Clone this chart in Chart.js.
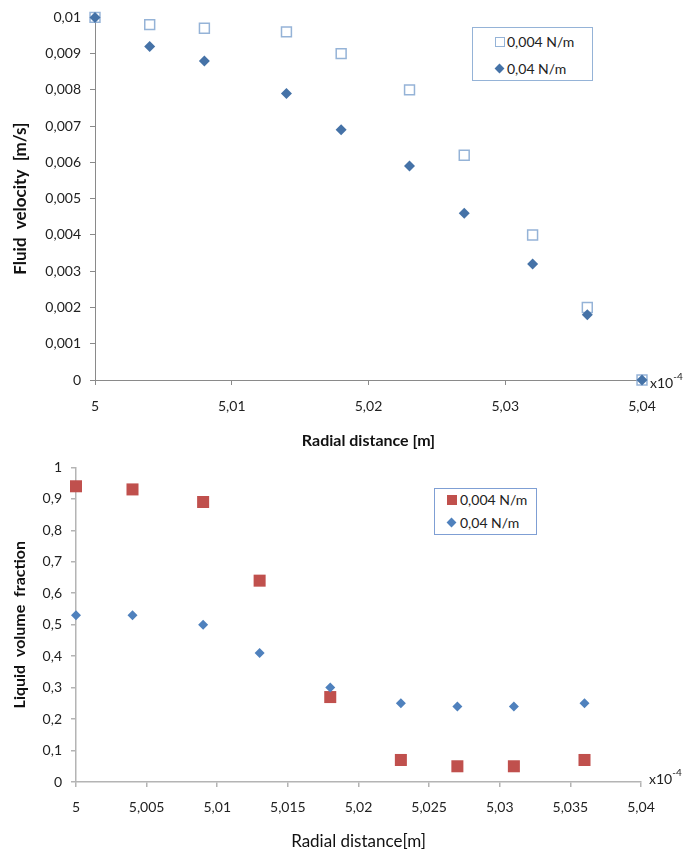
<!DOCTYPE html>
<html>
<head>
<meta charset="utf-8">
<script src="https://cdn.jsdelivr.net/npm/chart.js@4.4.0/dist/chart.umd.min.js"></script>
<style>
    html, body { margin: 0; padding: 0; background: #fff; }
    body { width: 683px; height: 855px; position: relative; overflow: hidden; font-family: Lato, "Liberation Sans", sans-serif; }
    .box { position: absolute; left: 0; width: 683px; }
    .legend { position: absolute; box-sizing: border-box; background: #fff; }
    .item { position: absolute; font-size: 14px; color: #222; line-height: 16px; white-space: nowrap; }
    .mark { position: absolute; box-sizing: border-box; }
</style>
</head>
<body>
<div class="box" style="top:0;height:450px"><canvas id="velocityChart" width="683" height="450"></canvas></div>
<div class="box" style="top:450px;height:405px"><canvas id="fractionChart" width="683" height="405"></canvas></div>

<div class="legend" style="left:472px;top:27px;width:121px;height:54px;border:1.5px solid #95b3d7">
    <span class="mark" style="left:22px;top:9px;width:10px;height:10px;border:1.5px solid #95b3d7;background:#fff"></span>
    <span class="item" id="velLegend0" style="left:34px;top:6px"></span>
    <span class="mark" style="left:23px;top:37px;width:7px;height:7px;background:#4572a7;transform:rotate(45deg)"></span>
    <span class="item" id="velLegend1" style="left:34px;top:33px"></span>
</div>
<div class="legend" style="left:434px;top:488px;width:103px;height:47px;border:1.5px solid #7f9fd4">
    <span class="mark" style="left:12px;top:6px;width:10px;height:10px;background:#c0504d"></span>
    <span class="item" id="fracLegend0" style="left:25px;top:3px"></span>
    <span class="mark" style="left:13px;top:30px;width:7px;height:7px;background:#4f81bd;transform:rotate(45deg)"></span>
    <span class="item" id="fracLegend1" style="left:25px;top:26px"></span>
</div>

<script>
// radial distance in units of 1e-4 m
const seriesLabels = ['0,004 N/m', '0,04 N/m'];

const velX = [5, 5.004, 5.008, 5.014, 5.018, 5.023, 5.027, 5.032, 5.036, 5.04];
const velLow = [0.01, 0.0098, 0.0097, 0.0096, 0.009, 0.008, 0.0062, 0.004, 0.002, 0];
const velHigh = [0.01, 0.0092, 0.0088, 0.0079, 0.0069, 0.0059, 0.0046, 0.0032, 0.0018, 0];

const fracX = [5, 5.004, 5.009, 5.013, 5.018, 5.023, 5.027, 5.031, 5.036];
const fracLow = [0.94, 0.93, 0.89, 0.64, 0.27, 0.07, 0.05, 0.05, 0.07];
const fracHigh = [0.53, 0.53, 0.50, 0.41, 0.30, 0.25, 0.24, 0.24, 0.25];

Chart.defaults.font.family = 'Lato, "Liberation Sans", sans-serif';
Chart.defaults.color = '#222';

document.getElementById('velLegend0').textContent = seriesLabels[0];
document.getElementById('velLegend1').textContent = seriesLabels[1];
document.getElementById('fracLegend0').textContent = seriesLabels[0];
document.getElementById('fracLegend1').textContent = seriesLabels[1];

function comma(v, digits) {
    return String(parseFloat(v.toFixed(digits))).replace('.', ',');
}

function toPoints(xs, ys) {
    return xs.map((x, i) => ({ x: x, y: ys[i] }));
}

// the little "x10-4" next to the end of the x axis
const exponentLabel = {
    id: 'exponentLabel',
    afterDraw(chart) {
        const xs = chart.scales.x;
        const ctx = chart.ctx;
        ctx.save();
        ctx.fillStyle = '#222';
        ctx.textBaseline = 'middle';
        ctx.font = '14px Lato, "Liberation Sans", sans-serif';
        const left = xs.right + 8;
        const y = xs.top + chart.options.plugins.exponentLabel.dy;
        ctx.fillText('x10', left, y);
        const w = ctx.measureText('x10').width;
        ctx.font = '10px Lato, "Liberation Sans", sans-serif';
        ctx.fillText('-4', left + w, y - 6);
        ctx.restore();
    }
};

function axisStyle(color, width) {
    return {
        grid: { drawOnChartArea: false, drawTicks: true, tickLength: 5, color: color, lineWidth: width },
        border: { display: true, color: color, width: width }
    };
}

// Fluid velocity chart
const velocityChart = new Chart(document.getElementById('velocityChart').getContext('2d'), {
    type: 'scatter',
    data: {
        datasets: [
            {
                label: seriesLabels[1],
                data: toPoints(velX, velHigh),
                pointStyle: 'rectRot',
                pointRadius: 5.5,
                backgroundColor: '#4572a7',
                borderColor: '#4572a7',
                borderWidth: 0,
                clip: false,
                order: 0
            },
            {
                label: seriesLabels[0],
                data: toPoints(velX, velLow),
                pointStyle: 'rect',
                pointRadius: 7,
                backgroundColor: '#fff',
                borderColor: '#95b3d7',
                borderWidth: 1.5,
                clip: false,
                order: 1
            }
        ]
    },
    options: {
        responsive: false,
        animation: false,
        events: [],
        layout: { padding: { top: 17, right: 41, left: 0, bottom: 0 } },
        plugins: {
            legend: { display: false },
            tooltip: { enabled: false },
            exponentLabel: { dy: 3 }
        },
        scales: {
            x: {
                type: 'linear',
                min: 5,
                max: 5.04,
                ...axisStyle('#8a8a8a', 1),
                ticks: { stepSize: 0.01, padding: 13, font: { size: 14 }, callback: v => comma(v, 3) },
                title: { display: true, text: 'Radial distance [m]', font: { size: 16, weight: 'bold' }, color: '#111', padding: { top: 0, bottom: 0 } },
                afterFit: scale => { scale.height = 70; }
            },
            y: {
                min: 0,
                max: 0.01,
                ...axisStyle('#8a8a8a', 1),
                ticks: { stepSize: 0.001, padding: 9, font: { size: 14 }, callback: v => comma(v, 4) },
                title: { display: true, text: 'Fluid  velocity  [m/s]', font: { size: 17, weight: 'bold' }, color: '#111', padding: { top: 10, bottom: 0 } },
                afterFit: scale => { scale.width = 95; }
            }
        }
    },
    plugins: [exponentLabel]
});

// Liquid volume fraction chart
const fractionChart = new Chart(document.getElementById('fractionChart').getContext('2d'), {
    type: 'scatter',
    data: {
        datasets: [
            {
                label: seriesLabels[1],
                data: toPoints(fracX, fracHigh),
                pointStyle: 'rectRot',
                pointRadius: 5,
                backgroundColor: '#4f81bd',
                borderColor: '#4f81bd',
                borderWidth: 0,
                clip: false,
                order: 0
            },
            {
                label: seriesLabels[0],
                data: toPoints(fracX, fracLow),
                pointStyle: 'rect',
                pointRadius: 8.5,
                backgroundColor: '#c0504d',
                borderColor: '#c0504d',
                borderWidth: 0,
                clip: false,
                order: 1
            }
        ]
    },
    options: {
        responsive: false,
        animation: false,
        events: [],
        layout: { padding: { top: 15, right: 42, left: 0, bottom: 0 } },
        plugins: {
            legend: { display: false },
            tooltip: { enabled: false },
            exponentLabel: { dy: -3 }
        },
        scales: {
            x: {
                type: 'linear',
                min: 5,
                max: 5.04,
                ...axisStyle('#b4b4b4', 1.5),
                ticks: { stepSize: 0.005, padding: 12, font: { size: 14 }, callback: v => comma(v, 3) },
                title: { display: true, text: 'Radial distance[m]', font: { size: 17 }, color: '#111', padding: { top: 0, bottom: 3 } },
                afterFit: scale => { scale.height = 73; }
            },
            y: {
                min: 0,
                max: 1,
                ...axisStyle('#b4b4b4', 1.5),
                ticks: { stepSize: 0.1, padding: 9, font: { size: 14 }, callback: v => comma(v, 1) },
                title: { display: true, text: 'Liquid  volume  fraction', font: { size: 16, weight: 'bold' }, color: '#111', padding: { top: 10, bottom: 0 } },
                afterFit: scale => { scale.width = 76; }
            }
        }
    },
    plugins: [exponentLabel]
});
</script>
</body>
</html>
